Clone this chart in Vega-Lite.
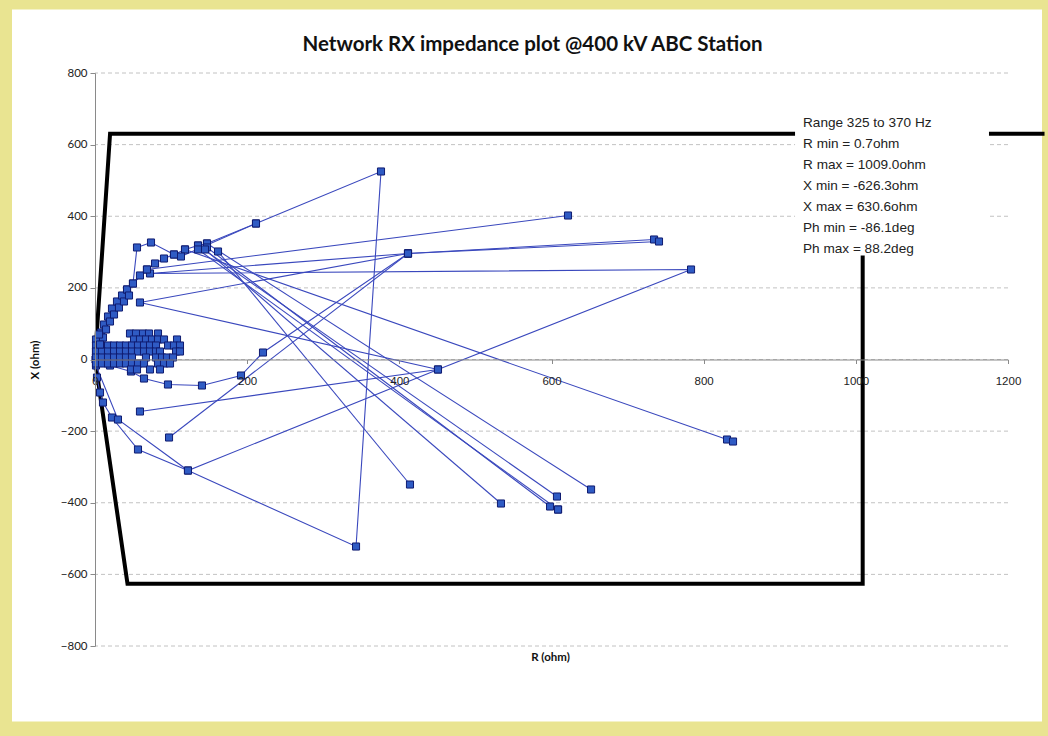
{
  "$schema": "https://vega.github.io/schema/vega-lite/v6.json",
  "width": 913,
  "height": 573,
  "autosize": "none",
  "padding": {"left": 95, "top": 73, "right": 40, "bottom": 90},
  "background": "#e9e491",
  "title": {
    "text": "Network RX impedance plot @400 kV ABC Station",
    "font": "Lato",
    "fontSize": 20.5,
    "fontWeight": "bold",
    "color": "#111111",
    "anchor": "middle",
    "baseline": "bottom",
    "dx": -19,
    "offset": -66
  },
  "config": {
    "view": {"stroke": null},
    "axis": {"grid": false},
    "axisX": {
      "offset": -286.5,
      "tickCount": 6,
      "format": "d",
      "labelFlush": false,
      "domainColor": "#8a8a8a",
      "tickColor": "#8a8a8a",
      "tickSize": 4,
      "labelFont": "Liberation Sans",
      "labelFontSize": 11.5,
      "labelColor": "#222222",
      "labelPadding": 12,
      "titleFont": "Lato",
      "titleFontSize": 11.5,
      "titleFontWeight": "bold",
      "titleColor": "#111111",
      "titleBaseline": "middle",
      "titleX": 455,
      "titleY": 298
    },
    "axisY": {
      "tickCount": 8,
      "domainColor": "#8a8a8a",
      "tickColor": "#8a8a8a",
      "tickSize": 5,
      "labelFont": "Lato",
      "labelFontSize": 11.5,
      "labelColor": "#222222",
      "labelPadding": 3,
      "titleFont": "Lato",
      "titleFontSize": 11.5,
      "titleFontWeight": "bold",
      "titleColor": "#111111",
      "titleBaseline": "middle",
      "titleX": -60,
      "titleY": 286.5
    }
  },
  "datasets": {
    "boundary": [
      {"R": 1248, "X": 630.6},
      {"R": 19.8, "X": 630.6},
      {"R": 0, "X": 0},
      {"R": 42.7, "X": -626.3},
      {"R": 1009, "X": -626.3},
      {"R": 1009, "X": 630.6}
    ],
    "grid": [
      {"X": -800}, {"X": -600}, {"X": -400}, {"X": -200}, {"X": 0},
      {"X": 200}, {"X": 400}, {"X": 600}, {"X": 800}
    ],
    "impedance": [
      {"s": "a", "R": 0.7, "X": 0},
      {"s": "a", "R": 1.3, "X": 22.3},
      {"s": "a", "R": 3.9, "X": 47.5},
      {"s": "a", "R": 7.9, "X": 75.4},
      {"s": "a", "R": 11.8, "X": 97.7},
      {"s": "a", "R": 17.1, "X": 120.1},
      {"s": "a", "R": 22.3, "X": 142.4},
      {"s": "a", "R": 28.9, "X": 162.0},
      {"s": "a", "R": 35.5, "X": 178.7},
      {"s": "a", "R": 42.1, "X": 195.5},
      {"s": "a", "R": 49.9, "X": 212.2},
      {"s": "a", "R": 59.1, "X": 234.6},
      {"s": "a", "R": 68.3, "X": 251.3},
      {"s": "a", "R": 78.9, "X": 268.1},
      {"s": "a", "R": 90.7, "X": 282.0},
      {"s": "a", "R": 103.8, "X": 293.2},
      {"s": "a", "R": 118.3, "X": 307.2},
      {"s": "a", "R": 135.4, "X": 318.3},
      {"s": "a", "R": 147.2, "X": 323.9},
      {"s": "a", "R": 211.6, "X": 379.8},
      {"s": "a", "R": 375.9, "X": 525.0},
      {"s": "a", "R": 343.1, "X": -522.2},
      {"s": "a", "R": 122.2, "X": -310.0},
      {"s": "a", "R": 56.5, "X": -251.3},
      {"s": "a", "R": 22.3, "X": -162.0},
      {"s": "a", "R": 10.5, "X": -120.1},
      {"s": "a", "R": 6.6, "X": -92.2},
      {"s": "a", "R": 2.6, "X": -50.3},

      {"s": "b", "R": 1.3, "X": -16.8},
      {"s": "b", "R": 30.2, "X": -167.6},
      {"s": "b", "R": 122.2, "X": -310.0},
      {"s": "b", "R": 450.8, "X": -27.9},
      {"s": "b", "R": 783.4, "X": 251.3},
      {"s": "b", "R": 72.3, "X": 240.2},
      {"s": "b", "R": 411.4, "X": 296.0},
      {"s": "b", "R": 734.8, "X": 335.1},

      {"s": "c", "R": 59.1, "X": -145.2},
      {"s": "c", "R": 450.8, "X": -27.9},
      {"s": "c", "R": 59.1, "X": 159.2},
      {"s": "c", "R": 411.4, "X": 296.0},
      {"s": "c", "R": 741.3, "X": 329.5},

      {"s": "d", "R": 97.3, "X": -217.8},
      {"s": "d", "R": 411.4, "X": 296.0},

      {"s": "e", "R": 42.1, "X": 195.5},
      {"s": "e", "R": 68.3, "X": 251.3},
      {"s": "e", "R": 621.7, "X": 402.1},

      {"s": "f", "R": 118.3, "X": 307.2},
      {"s": "f", "R": 830.7, "X": -223.4},
      {"s": "f", "R": 838.6, "X": -229.0},

      {"s": "g", "R": 147.2, "X": 323.9},
      {"s": "g", "R": 652.0, "X": -363.0},

      {"s": "h", "R": 135.4, "X": 318.3},
      {"s": "h", "R": 607.2, "X": -382.6},

      {"s": "i", "R": 147.2, "X": 312.8},
      {"s": "i", "R": 598.1, "X": -410.5},
      {"s": "i", "R": 608.6, "X": -418.9},

      {"s": "j", "R": 135.4, "X": 307.2},
      {"s": "j", "R": 608.6, "X": -418.9},

      {"s": "k", "R": 144.6, "X": 307.2},
      {"s": "k", "R": 533.6, "X": -402.1},

      {"s": "l", "R": 161.7, "X": 301.6},
      {"s": "l", "R": 414.0, "X": -349.1},

      {"s": "m", "R": 1.3, "X": 5.6},
      {"s": "m", "R": 19.7, "X": -16.8},
      {"s": "m", "R": 47.3, "X": -33.5},
      {"s": "m", "R": 64.4, "X": -53.1},
      {"s": "m", "R": 95.9, "X": -69.8},
      {"s": "m", "R": 140.6, "X": -72.6},
      {"s": "m", "R": 191.9, "X": -44.7},
      {"s": "m", "R": 220.8, "X": 19.5},
      {"s": "m", "R": 411.4, "X": 296.0},

      {"s": "n", "R": 113.0, "X": 287.6},
      {"s": "n", "R": 211.6, "X": 379.8},

      {"s": "o", "R": 49.9, "X": 212.2},
      {"s": "o", "R": 55.2, "X": 312.8},
      {"s": "o", "R": 73.6, "X": 326.7},
      {"s": "o", "R": 103.8, "X": 293.2},

      {"s": "blob", "R": 46.0, "X": 72.6},
      {"s": "blob", "R": 53.9, "X": 72.6},
      {"s": "blob", "R": 63.1, "X": 72.6},
      {"s": "blob", "R": 71.0, "X": 72.6},
      {"s": "blob", "R": 82.8, "X": 72.6},
      {"s": "blob", "R": 1.3, "X": 55.9},
      {"s": "blob", "R": 51.3, "X": 55.9},
      {"s": "blob", "R": 59.1, "X": 55.9},
      {"s": "blob", "R": 67.0, "X": 55.9},
      {"s": "blob", "R": 74.9, "X": 55.9},
      {"s": "blob", "R": 82.8, "X": 55.9},
      {"s": "blob", "R": 90.7, "X": 55.9},
      {"s": "blob", "R": 107.8, "X": 55.9},
      {"s": "blob", "R": 1.3, "X": 39.1},
      {"s": "blob", "R": 9.2, "X": 39.1},
      {"s": "blob", "R": 17.1, "X": 39.1},
      {"s": "blob", "R": 25.0, "X": 39.1},
      {"s": "blob", "R": 32.9, "X": 39.1},
      {"s": "blob", "R": 40.7, "X": 39.1},
      {"s": "blob", "R": 48.6, "X": 39.1},
      {"s": "blob", "R": 56.5, "X": 39.1},
      {"s": "blob", "R": 64.4, "X": 39.1},
      {"s": "blob", "R": 72.3, "X": 39.1},
      {"s": "blob", "R": 80.2, "X": 39.1},
      {"s": "blob", "R": 96.0, "X": 39.1},
      {"s": "blob", "R": 103.8, "X": 39.1},
      {"s": "blob", "R": 111.7, "X": 39.1},
      {"s": "blob", "R": 1.3, "X": 22.3},
      {"s": "blob", "R": 9.2, "X": 22.3},
      {"s": "blob", "R": 17.1, "X": 22.3},
      {"s": "blob", "R": 25.0, "X": 22.3},
      {"s": "blob", "R": 32.9, "X": 22.3},
      {"s": "blob", "R": 40.7, "X": 22.3},
      {"s": "blob", "R": 48.6, "X": 22.3},
      {"s": "blob", "R": 56.5, "X": 22.3},
      {"s": "blob", "R": 64.4, "X": 22.3},
      {"s": "blob", "R": 72.3, "X": 22.3},
      {"s": "blob", "R": 80.2, "X": 22.3},
      {"s": "blob", "R": 85.4, "X": 22.3},
      {"s": "blob", "R": 106.5, "X": 22.3},
      {"s": "blob", "R": 111.7, "X": 22.3},
      {"s": "blob", "R": 1.3, "X": 5.6},
      {"s": "blob", "R": 9.2, "X": 5.6},
      {"s": "blob", "R": 17.1, "X": 5.6},
      {"s": "blob", "R": 25.0, "X": 5.6},
      {"s": "blob", "R": 32.9, "X": 5.6},
      {"s": "blob", "R": 40.7, "X": 5.6},
      {"s": "blob", "R": 48.6, "X": 5.6},
      {"s": "blob", "R": 67.0, "X": 5.6},
      {"s": "blob", "R": 80.2, "X": 5.6},
      {"s": "blob", "R": 88.1, "X": 5.6},
      {"s": "blob", "R": 94.6, "X": 5.6},
      {"s": "blob", "R": 102.5, "X": 5.6},
      {"s": "blob", "R": 1.3, "X": -11.2},
      {"s": "blob", "R": 9.2, "X": -11.2},
      {"s": "blob", "R": 17.1, "X": -11.2},
      {"s": "blob", "R": 25.0, "X": -11.2},
      {"s": "blob", "R": 32.9, "X": -11.2},
      {"s": "blob", "R": 40.7, "X": -11.2},
      {"s": "blob", "R": 48.6, "X": -11.2},
      {"s": "blob", "R": 56.5, "X": -11.2},
      {"s": "blob", "R": 64.4, "X": -11.2},
      {"s": "blob", "R": 82.8, "X": -11.2},
      {"s": "blob", "R": 90.7, "X": -11.2},
      {"s": "blob", "R": 98.6, "X": -11.2},
      {"s": "blob", "R": 47.3, "X": -27.9},
      {"s": "blob", "R": 55.2, "X": -27.9},
      {"s": "blob", "R": 72.3, "X": -27.9},
      {"s": "blob", "R": 85.4, "X": -27.9},
      {"s": "blob", "R": 10.5, "X": 61.4},
      {"s": "blob", "R": 14.5, "X": 83.8},
      {"s": "blob", "R": 19.7, "X": 106.1},
      {"s": "blob", "R": 25.0, "X": 125.7},
      {"s": "blob", "R": 31.5, "X": 145.2},
      {"s": "blob", "R": 38.1, "X": 162.0},
      {"s": "blob", "R": 44.7, "X": 178.7},
      {"s": "blob", "R": 6.6, "X": 41.9},
      {"s": "blob", "R": 5.3, "X": 69.8}
    ]
  },
  "layer": [
    {
      "data": {"values": [{}]},
      "mark": {"type": "rect", "fill": "#ffffff", "clip": false},
      "encoding": {
        "x": {"datum": -109.1},
        "x2": {"datum": 1244.7},
        "y": {"datum": 977.4},
        "y2": {"datum": -1010.9}
      }
    },
    {
      "data": {"name": "grid"},
      "mark": {"type": "rule", "color": "#c2c2c2", "strokeWidth": 1, "strokeDash": [4, 3]},
      "encoding": {
        "y": {"field": "X", "type": "quantitative", "title": "X (ohm)", "axis": {"zindex": 1}}
      }
    },
    {
      "data": {"name": "boundary"},
      "mark": {"type": "line", "color": "#000000", "strokeWidth": 4, "strokeJoin": "miter", "clip": false},
      "encoding": {
        "x": {"field": "R", "type": "quantitative", "title": "R (ohm)", "axis": {"zindex": 1}},
        "y": {"field": "X", "type": "quantitative", "title": "X (ohm)", "axis": {"zindex": 1}},
        "order": {"value": null}
      }
    },
    {
      "data": {"name": "impedance"},
      "transform": [{"filter": "datum.s !== 'blob'"}],
      "mark": {"type": "line", "color": "#3a48bd", "strokeWidth": 1.1},
      "encoding": {
        "x": {
          "field": "R",
          "type": "quantitative",
          "title": "R (ohm)",
          "axis": {"zindex": 1},
          "scale": {"domain": [0, 1200], "nice": false, "zero": false}
        },
        "y": {
          "field": "X",
          "type": "quantitative",
          "title": "X (ohm)",
          "axis": {"zindex": 1},
          "scale": {"domain": [-800, 800], "nice": false}
        },
        "detail": {"field": "s"},
        "order": {"value": null}
      }
    },
    {
      "data": {"name": "impedance"},
      "mark": {
        "type": "point",
        "shape": "square",
        "filled": true,
        "fill": "#2f5bc4",
        "stroke": "#101c70",
        "strokeWidth": 1,
        "size": 50,
        "opacity": 1
      },
      "encoding": {
        "x": {"field": "R", "type": "quantitative", "title": "R (ohm)", "axis": {"zindex": 1}},
        "y": {"field": "X", "type": "quantitative", "title": "X (ohm)", "axis": {"zindex": 1}}
      }
    },
    {
      "data": {"values": [{}]},
      "mark": {"type": "rect", "fill": "#ffffff"},
      "encoding": {
        "x": {"datum": 920.1},
        "x2": {"datum": 1175},
        "y": {"datum": 703.7},
        "y2": {"datum": 290.4}
      }
    },
    {
      "data": {"values": [{}]},
      "mark": {
        "type": "text",
        "text": [
          "Range 325 to 370 Hz",
          "R min = 0.7ohm",
          "R max = 1009.0ohm",
          "X min = -626.3ohm",
          "X max = 630.6ohm",
          "Ph min = -86.1deg",
          "Ph max = 88.2deg"
        ],
        "align": "left",
        "baseline": "top",
        "font": "Liberation Sans",
        "fontSize": 13.6,
        "lineHeight": 21,
        "color": "#222222"
      },
      "encoding": {
        "x": {"datum": 930.6},
        "y": {"datum": 681}
      }
    }
  ]
}
